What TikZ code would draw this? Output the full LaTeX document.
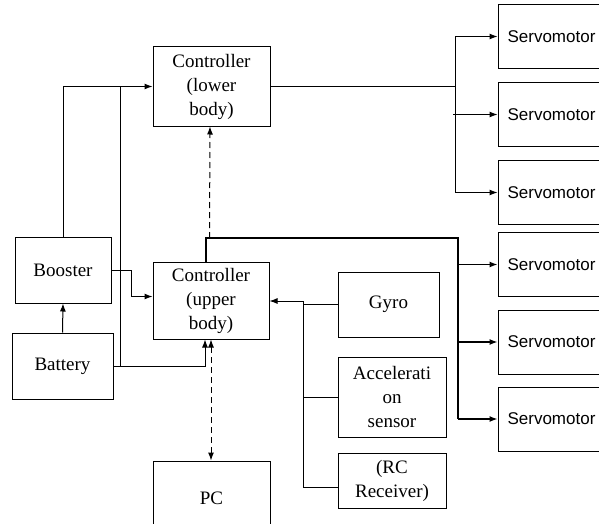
\documentclass[tikz,border=0pt]{standalone}
\usepackage{fontspec}
\setmainfont{Liberation Serif}
\newfontfamily\servofont{Liberation Sans}
\usetikzlibrary{arrows.meta}

\begin{document}
\begin{tikzpicture}[x=1pt,y=-1pt]
\tikzset{block/.style={draw,line width=1pt,inner sep=0pt,align=center,font=\fontsize{19}{24}\selectfont}}
\tikzset{servo/.style={block,minimum width=107pt,minimum height=64pt,font=\servofont\fontsize{17}{20}\selectfont}}
\tikzset{wire/.style={line width=1pt,>={Latex[length=8pt,width=6pt]}}}
\tikzset{bus/.style={line width=2pt}}
\tikzset{link/.style={wire,dash pattern=on 6pt off 4pt}}

\useasboundingbox (0,0) rectangle (599,524);

\node[block,minimum width=117pt,minimum height=79pt] (ctrll) at (211.5,86.5) {Controller\\(lower\\body)};
\node[block,minimum width=116pt,minimum height=77pt] (ctrlu) at (211,300.5) {Controller\\(upper\\body)};
\node[block,minimum width=96pt,minimum height=66pt] (booster) at (63,270) {Booster};
\node[block,minimum width=101pt,minimum height=66pt] (battery) at (62.5,366) {Battery};
\node[block,minimum width=117pt,minimum height=74pt] (pc) at (211.5,498) {PC};
\node[block,minimum width=101pt,minimum height=65pt] (gyro) at (388.5,304.5) {Gyro};
\node[block,minimum width=108pt,minimum height=80pt] (accel) at (392,397) {Accelerati\\on\\sensor};
\node[block,minimum width=108pt,minimum height=55pt] (rc) at (392,480.5) {(RC\\Receiver)};

\node[servo] (servo1) at (551.5,36.5) {Servomotor};
\node[servo] (servo2) at (551.5,114.5) {Servomotor};
\node[servo] (servo3) at (551.5,192.5) {Servomotor};
\node[servo] (servo4) at (551.5,264.5) {Servomotor};
\node[servo] (servo5) at (551.5,342) {Servomotor};
\node[servo] (servo6) at (551.5,419) {Servomotor};

\coordinate (pwr) at (120,366);
\coordinate (lbus) at (455,86.5);
\coordinate (ubus) at (458,238);
\coordinate (sbus) at (303,301);

% power
\draw[wire,->] (battery.north) -- (booster.south);
\draw[wire,->] (booster.north) |- (ctrll.west);
\draw[wire] (pwr) -- (pwr |- ctrll.west);
\draw[wire,->] (battery.east) -| ([xshift=-6pt]ctrlu.south);
\draw[wire,->] (booster.east) -- ++(20,0) |- ([yshift=4pt]ctrlu.west);

% lower body servos
\draw[wire] (ctrll.east) -- (lbus);
\draw[wire] (lbus |- servo1.west) -- (lbus |- servo3.west);
\foreach \s in {servo1,servo3}
  \draw[wire,->] (lbus |- \s.west) -- (\s.west);
\draw[wire,->] ([xshift=-2pt]lbus |- servo2.west) -- (servo2.west);

% upper body servos
\draw[wire,bus] ([xshift=-5pt]ctrlu.north) |- (ubus) -- (ubus |- servo6.west);
\foreach \s in {servo4,servo5,servo6}
  \draw[wire,line width=1.3pt,->] (ubus |- \s.west) -- (\s.west);

% communication
\draw[link,->] ([xshift=-1.5pt]ctrlu.north |- ubus) -- ([xshift=-1.5pt]ctrll.south);
\draw[link,<->] (ctrlu.south) -- (ctrlu.south |- pc.north);

% sensors
\draw[wire,->] (gyro.west) -- (gyro.west -| sbus) -- (sbus) -- (sbus -| ctrlu.east);
\draw[wire] (accel.west) -- (accel.west -| sbus);
\draw[wire] ([yshift=-6.5pt]rc.west) -| (sbus);

\end{tikzpicture}
\end{document}
